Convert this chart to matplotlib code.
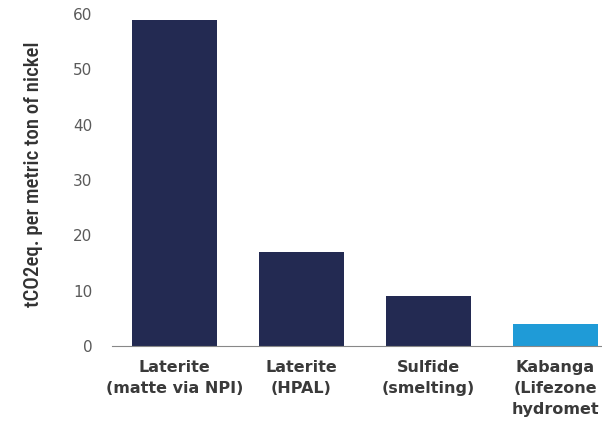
import matplotlib.pyplot as plt
import numpy as np

# emissions intensity by nickel production route
routes = ['Laterite\n(matte via NPI)', 'Laterite\n(HPAL)', 'Sulfide\n(smelting)', 'Kabanga\n(Lifezone\nhydromet']
emissions = [59, 17, 9, 4]
colors = ['#232a52', '#232a52', '#232a52', '#1f9bd7']

fig = plt.figure(figsize=(6.02, 4.21), dpi=100)
ax = fig.add_axes([112/602, 75/421, 490/602, 332/421])

x = np.arange(len(routes))
ax.bar(x, emissions, width=0.67, color=colors)

ax.set_xlim(-0.49, 3.366)
ax.set_ylim(0, 60)
ax.set_yticks(range(0, 61, 10))
ax.set_xticks(x)
ax.set_xticklabels(routes, fontfamily='DejaVu Sans', fontweight='bold', fontsize=11.5,
                   color='#3a3a3a', linespacing=1.52)
for lab in ax.get_yticklabels():
    lab.set_fontfamily('DejaVu Sans')
    lab.set_fontsize(11)
    lab.set_color('#5a5a5a')

ax.tick_params(axis='y', length=0, pad=14)
ax.tick_params(axis='x', length=0, pad=10)
for s in ['top', 'right', 'left']:
    ax.spines[s].set_visible(False)
ax.spines['bottom'].set_color('#888888')
ax.spines['bottom'].set_linewidth(0.8)

ax.set_ylabel('tCO2eq. per metric ton of nickel',
              family=['Roboto Condensed', 'DejaVu Sans Condensed', 'Roboto'],
              fontsize=15, fontweight='medium', color='#333333')
ax.yaxis.set_label_coords(-0.141, 0.518)

fig.savefig('out.png', dpi=100)
